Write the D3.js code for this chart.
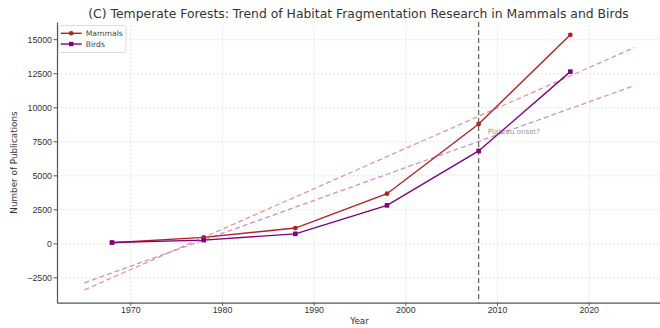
<!DOCTYPE html>
<html>
<head>
<meta charset="utf-8">
<script src="https://cdn.jsdelivr.net/npm/d3@7"></script>
<style>
  body { margin: 0; background: #fff; }
  svg { display: block; font-family: "DejaVu Sans", sans-serif; }
  .grid line { stroke: #d9d9d9; stroke-width: 0.7; stroke-dasharray: 2,2; }
  .grid .domain { display: none; }
  .axis text { fill: #333; font-size: 8.8px; }
  .axis line { stroke: #555; }
  .axis .domain { stroke: #555; stroke-width: 1.2; }
</style>
</head>
<body>
<div id="chart--wrap"></div>
<script>
// data
const years = [1968, 1978, 1988, 1998, 2008, 2018];
const mammals = [50, 440, 1125, 3650, 8770, 15320];
const birds = [60, 240, 700, 2790, 6790, 12620];
const trendYears = [1965, 2025];
const xTickVals = [1970, 1980, 1990, 2000, 2010, 2020];
const yTickVals = [-2500, 0, 2500, 5000, 7500, 10000, 12500, 15000];
const markYear = 2008;
const markLabel = 'Plateau onset?';

const seriesConfig = [
  { name: 'Mammals', values: mammals, color: '#b22222', trend: '#e09a9a', shape: 'circle' },
  { name: 'Birds', values: birds, color: '#800080', trend: '#cf8fcf', shape: 'square' }
];

const W = 660, H = 328;
const margin = { top: 22, right: -2, bottom: 25.3, left: 57 };
const width = W - margin.left - margin.right;
const height = H - margin.top - margin.bottom;

const x = d3.scaleLinear().domain([1962, 2028]).range([0, width]);
const y = d3.scaleLinear().domain([-4360, 16265]).range([height, 0]);

const svg = d3.select('#chart--wrap').append('svg')
  .attr('width', W)
  .attr('height', H);

const group = svg.append('g')
  .attr('transform', `translate(${margin.left}, ${margin.top})`);

// grid
group.append('g')
  .attr('class', 'grid')
  .call(d3.axisLeft(y).tickValues(yTickVals).tickSize(-width).tickFormat(''));
group.append('g')
  .attr('class', 'grid')
  .attr('transform', `translate(0, ${height})`)
  .call(d3.axisBottom(x).tickValues(xTickVals).tickSize(-height).tickFormat(''));

// least squares trend
const fit = vals => {
  const mx = d3.mean(years), my = d3.mean(vals);
  const slope = d3.sum(years, (d, i) => (d - mx) * (vals[i] - my)) / d3.sum(years, d => (d - mx) * (d - mx));
  return yr => my + slope * (yr - mx);
};

const line = d3.line()
  .x(d => x(d.year))
  .y(d => y(d.value));

seriesConfig.forEach(s => {
  const f = fit(s.values);
  group.append('path')
    .attr('d', line(trendYears.map(yr => ({ year: yr, value: f(yr) }))))
    .style('fill', 'none')
    .style('stroke', s.trend)
    .style('stroke-width', 1.3)
    .style('stroke-dasharray', '5,3');
});

// vertical marker
group.append('line')
  .attr('x1', x(markYear)).attr('x2', x(markYear))
  .attr('y1', 0).attr('y2', height)
  .style('stroke', '#555')
  .style('stroke-width', 1.1)
  .style('stroke-dasharray', '5,3');

group.append('text')
  .attr('x', x(markYear + 1))
  .attr('y', y(8000))
  .style('font-size', '7.1px')
  .style('fill', '#999')
  .text(markLabel);

// series
seriesConfig.forEach(s => {
  const pts = years.map((yr, i) => ({ year: yr, value: s.values[i] }));
  group.append('path')
    .attr('d', line(pts))
    .style('fill', 'none')
    .style('stroke', s.color)
    .style('stroke-width', 1.4);
  if (s.shape === 'circle') {
    group.selectAll(null).data(pts).enter().append('circle')
      .attr('cx', d => x(d.year))
      .attr('cy', d => y(d.value))
      .attr('r', 2.4)
      .style('fill', s.color);
  } else {
    group.selectAll(null).data(pts).enter().append('rect')
      .attr('x', d => x(d.year) - 2.3)
      .attr('y', d => y(d.value) - 2.3)
      .attr('width', 4.6).attr('height', 4.6)
      .style('fill', s.color);
  }
});

// axes
group.append('g')
  .attr('class', 'axis')
  .call(d3.axisLeft(y).tickValues(yTickVals).tickSize(3.5).tickSizeOuter(0).tickPadding(1.5)
    .tickFormat(d => d < 0 ? '\u2212' + Math.abs(d) : d));
group.append('g')
  .attr('class', 'axis')
  .attr('transform', `translate(0, ${height})`)
  .call(d3.axisBottom(x).tickValues(xTickVals).tickSize(3).tickSizeOuter(0).tickPadding(0.8)
    .tickFormat(d3.format('d')));

// labels
svg.append('text')
  .attr('x', 358.5)
  .attr('y', 18.3)
  .attr('text-anchor', 'middle')
  .style('font-size', '12.4px')
  .style('fill', '#333')
  .text('(C) Temperate Forests: Trend of Habitat Fragmentation Research in Mammals and Birds');

svg.append('text')
  .attr('x', 359.5)
  .attr('y', 324)
  .attr('text-anchor', 'middle')
  .style('font-size', '8.8px')
  .style('fill', '#333')
  .text('Year');

svg.append('text')
  .attr('transform', 'translate(17, 162.5) rotate(-90)')
  .attr('text-anchor', 'middle')
  .style('font-size', '8.8px')
  .style('fill', '#333')
  .text('Number of Publications');

// legend
const legend = svg.append('g')
  .attr('transform', 'translate(58.5, 25.5)');
legend.append('rect')
  .attr('width', 67.5).attr('height', 27).attr('rx', 2)
  .style('fill', '#fff').style('fill-opacity', 0.8)
  .style('stroke', '#ddd');
seriesConfig.forEach((s, i) => {
  const row = legend.append('g').attr('transform', `translate(0, ${7.8 + i * 10.7})`);
  row.append('line')
    .attr('x1', 2.2).attr('x2', 23.2)
    .style('stroke', s.color).style('stroke-width', 1.4);
  if (s.shape === 'circle') {
    row.append('circle').attr('cx', 12.7).attr('r', 2.3).style('fill', s.color);
  } else {
    row.append('rect').attr('x', 10.5).attr('y', -2.2).attr('width', 4.4).attr('height', 4.4).style('fill', s.color);
  }
  row.append('text')
    .attr('x', 27.2).attr('y', 2.8)
    .style('font-size', '7.7px')
    .style('fill', '#444')
    .text(s.name);
});
</script>
</body>
</html>
